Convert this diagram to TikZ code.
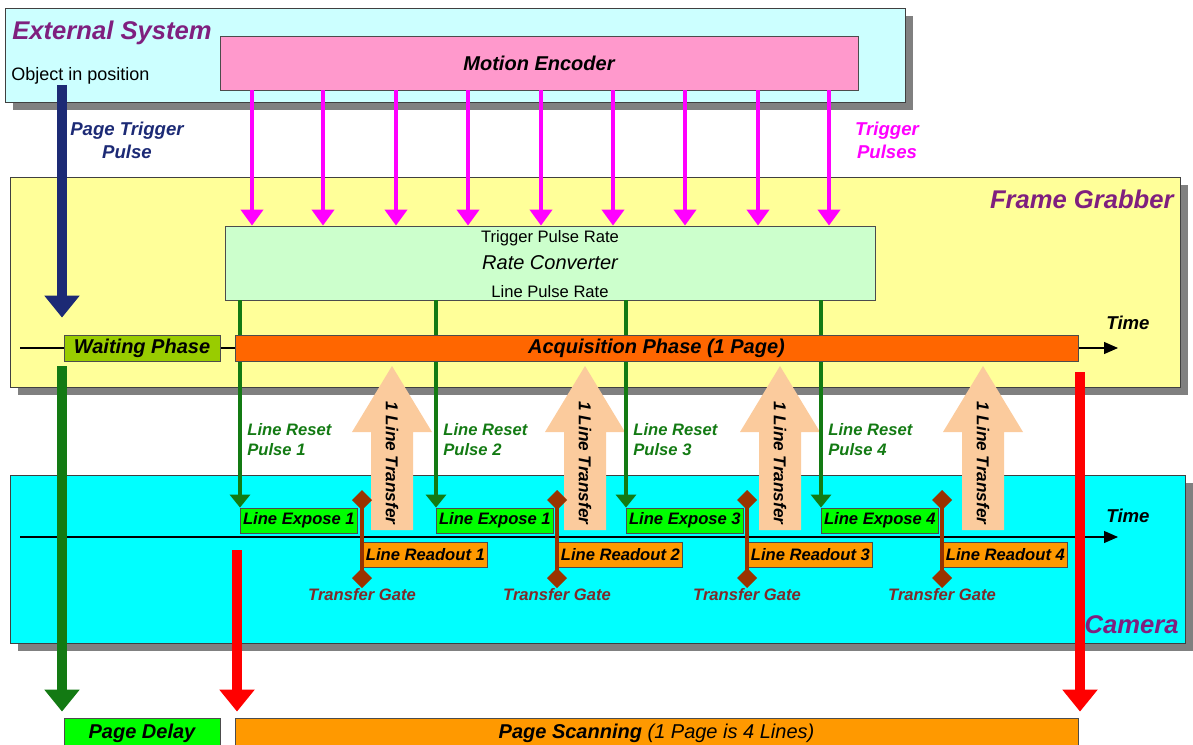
\documentclass[tikz,border=0pt]{standalone}
\usepackage{fontspec}
\setmainfont{Liberation Sans}
\usetikzlibrary{arrows.meta,shadows}
\definecolor{Shade}{HTML}{808080}
\definecolor{Plum}{HTML}{7F1F7F}
\definecolor{Navy}{HTML}{1C2A75}
\definecolor{Sky}{HTML}{CCFFFF}
\definecolor{Pink}{HTML}{FF99CC}
\definecolor{Pulse}{HTML}{FF00FF}
\definecolor{Butter}{HTML}{FFFF99}
\definecolor{Mint}{HTML}{CCFFCC}
\definecolor{Lime}{HTML}{99CC00}
\definecolor{Flame}{HTML}{FF6600}
\definecolor{Peach}{HTML}{FBCB9D}
\definecolor{Leaf}{HTML}{137A13}
\definecolor{Aqua}{HTML}{00FFFF}
\definecolor{Neon}{HTML}{00FF00}
\definecolor{Amber}{HTML}{FF9900}
\definecolor{Rust}{HTML}{993300}
\definecolor{Maroon}{HTML}{7F2A2A}
\definecolor{Signal}{HTML}{FF0000}
\tikzset{
 panel/.style={draw=black!75,line width=.5pt,inner sep=0pt,general shadow={fill=Shade,shadow xshift=4pt,shadow yshift=-4pt}},
 block/.style={draw=black!70,line width=.4pt,inner sep=0pt},
 title/.style={inner sep=0pt,text=Plum,font=\fontsize{12.8}{15}\selectfont\bfseries\itshape},
 tag/.style={inner sep=0pt,font=\fontsize{8.3}{10}\selectfont\bfseries\itshape},
 note/.style={inner sep=0pt,align=center,font=\fontsize{9.3}{11.5}\selectfont\bfseries\itshape},
 rate/.style={inner sep=0pt,font=\fontsize{8.3}{10}\selectfont},
 phase/.style={block,minimum height=13pt,font=\fontsize{10}{12}\selectfont\bfseries\itshape},
 expose/.style={block,tag,fill=Neon,minimum width=58.5pt,minimum height=12.5pt},
 readout/.style={block,tag,fill=Amber,minimum width=62pt,minimum height=12.5pt},
 trig/.style={draw=Pulse,line width=2pt,-{Triangle[width=11pt,length=8pt]}},
 reset/.style={draw=Leaf,line width=1.6pt,-{Triangle[width=10pt,length=6.5pt]}},
 gate/.style={draw=Rust,line width=2pt,{Diamond[width=10pt,length=10pt]}-{Diamond[width=10pt,length=10pt]}},
 bigarr/.style={line width=5pt,-{Triangle[width=17pt,length=11pt]}},
 axis/.style={draw=black,line width=.6pt,-{Triangle[width=6pt,length=7pt]}}
}
\begin{document}
\begin{tikzpicture}[x=.5pt,y=-.5pt]
\useasboundingbox (0,0) rectangle (1193,744);
\node[panel,fill=Sky,minimum width=450pt,minimum height=47pt] (ext) at (455,55) {};
\node[panel,fill=Butter,minimum width=585pt,minimum height=105pt] (fg) at (595,282) {};
\node[panel,fill=Aqua,minimum width=587.5pt,minimum height=84pt] (cam) at (597.5,559) {};
\node[title,anchor=west] (extname) at (12,33) {External System};
\node[title,anchor=east] (fgname) at (1174,199) {Frame Grabber};
\node[title,anchor=east] (camname) at (1179,625) {Camera};
\node[anchor=west,inner sep=0pt,font=\fontsize{9}{11}\selectfont] (obj) at (11,76) {Object in position};
\node[block,fill=Pink,minimum width=319pt,minimum height=27pt,font=\fontsize{10}{12}\selectfont\bfseries\itshape] (enc) at (539,63) {Motion Encoder};
\node[block,fill=Mint,minimum width=325pt,minimum height=37pt,font=\fontsize{10}{12}\selectfont\itshape] (rc) at (550,263) {Rate Converter};
\node[rate] (rin) at (550,238) {Trigger Pulse Rate};
\node[rate] (rout) at (550,292) {Line Pulse Rate};
\node[note,text=Navy] (ptp) at (127,140) {Page Trigger\\Pulse};
\node[note,text=Pulse] (tps) at (887,140) {Trigger\\Pulses};
\foreach \x [count=\i] in {252,323,396,468,541,613,685,758,829} {
 \coordinate (m\i) at (\x,0);
 \draw[trig] (enc.south -| m\i) -- (rc.north -| m\i);
}
\coordinate (fa) at (20,348); \coordinate (fb) at (1118,348);
\coordinate (ca) at (20,537); \coordinate (cb) at (1118,537);
\draw[axis] (fa) -- (fb);
\draw[axis] (ca) -- (cb);
\node[note] (ftime) at (1128,323) {Time};
\node[note] (ctime) at (1128,516) {Time};
\foreach \i/\n/\e/\r/\t in {1/1/240/363/392,2/1/436/558/585,3/3/626/748/780,4/4/821/943/983} {
 \node[expose,anchor=west] (ex\i) at (\e,520.5) {Line Expose \n};
 \node[readout,anchor=west] (ro\i) at (\r,554.5) {Line Readout \i};
 \draw[reset] (rc.south -| ex\i.west) -- (ex\i.north west);
 \node[tag,text=Leaf,align=left,anchor=west] (rl\i) at (\e+7,440) {Line Reset\\Pulse \i};
 \fill[Peach] (\t-21,530) -- (\t-21,432) -- (\t-40,432) -- (\t,366) -- (\t+40,432) -- (\t+21,432) -- (\t+21,530) -- cycle;
 \node[tag,rotate=-90,font=\fontsize{8.6}{10}\selectfont\bfseries\itshape] (xf\i) at (\t,463) {1 Line Transfer};
 \node[tag,text=Maroon,anchor=north] (tg\i) at (\r-1,588) {Transfer Gate};
 \draw[gate] (tg\i.north) -- ++(0,-98);
}
\node[phase,fill=Lime,minimum width=78pt] (wait) at (142,348) {Waiting Phase};
\node[phase,fill=Flame,minimum width=421.5pt] (acq) at (656.5,348) {Acquisition Phase (1 Page)};
\node[phase,fill=Neon,minimum width=78pt,minimum height=15pt] (delay) at (142,733) {Page Delay};
\node[phase,fill=Amber,minimum width=421.5pt,minimum height=15pt] (scan) at (656.5,733) {Page Scanning {\mdseries(1 Page is 4 Lines)}};
\coordinate (ax) at (62,0);
\coordinate (rs) at (237,550);
\coordinate (re) at (1080,372);
\draw[bigarr,Navy,shorten >=8.5pt] (obj.south -| ax) -- (wait.north -| ax);
\draw[bigarr,Leaf,shorten <=2.5pt,shorten >=3pt] (wait.south -| ax) -- (delay.north -| ax);
\draw[bigarr,Signal,shorten >=3pt] (rs) -- (scan.north -| rs);
\draw[bigarr,Signal,shorten >=3pt] (re) -- (scan.north -| re);
\end{tikzpicture}
\end{document}
